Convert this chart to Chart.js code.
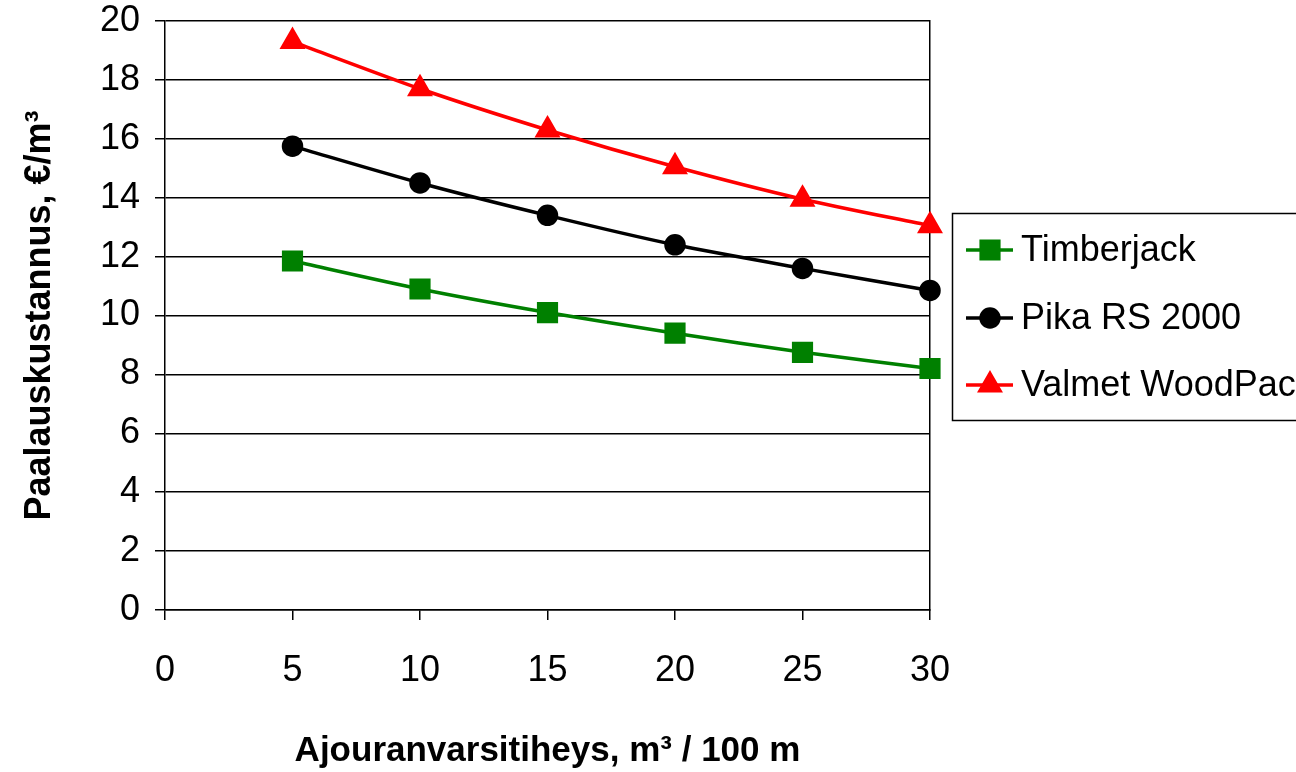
<!DOCTYPE html>
<html>
<head>
<meta charset="utf-8">
<script src="https://cdn.jsdelivr.net/npm/chart.js@4"></script>
<style>
  html, body { margin: 0; padding: 0; background: #fff; }
  #wrap { width: 1296px; height: 772px; }
</style>
</head>
<body>
<div id="wrap"><canvas id="grafica" width="1296" height="772"></canvas></div>
<script>
// ========== DATOS ==========
const tiheys = [5, 10, 15, 20, 25, 30];
const timberjack = [11.85, 10.9, 10.1, 9.4, 8.75, 8.2];
const pika = [15.75, 14.5, 13.4, 12.4, 11.6, 10.85];
const valmet = [19.3, 17.7, 16.3, 15.05, 13.95, 13.05];
const sarjat = ['Timberjack', 'Pika RS 2000', 'Valmet WoodPac'];
const xTitle = 'Ajouranvarsitiheys, m³ / 100 m';
const yTitle = 'Paalauskustannus, €/m³';

const FONT = 'Liberation Sans, Arial, sans-serif';

function pisteet(arvot) {
  return tiheys.map((x, i) => ({ x: x, y: arvot[i] }));
}

// ========== SELITE (oma piirto) ==========
const selite = {
  id: 'selite',
  afterDraw(chart) {
    const ctx = chart.ctx;
    ctx.save();
    ctx.strokeStyle = '#000';
    ctx.lineWidth = 1.5;
    ctx.strokeRect(952.5, 213.5, 400, 207);
    ctx.font = '36px ' + FONT;
    ctx.textBaseline = 'middle';
    ctx.fillStyle = '#000';
    const rivit = [250, 318, 385];
    chart.data.datasets.forEach((ds, i) => {
      const y = rivit[i];
      ctx.strokeStyle = ds.borderColor;
      ctx.lineWidth = 3.5;
      ctx.beginPath();
      ctx.moveTo(966, y);
      ctx.lineTo(1013, y);
      ctx.stroke();
      Chart.helpers.drawPoint(ctx, {
        pointStyle: ds.pointStyle,
        radius: ds.pointRadius,
        borderWidth: 1
      }, 990, y);
      ctx.fillStyle = ds.backgroundColor;
      ctx.fill();
      ctx.fillStyle = '#000';
      ctx.fillText(ds.label, 1021, y + 1);
    });
    ctx.restore();
  }
};

// ========== KAAVIO ==========
const ctx = document.getElementById('grafica');
new Chart(ctx, {
  type: 'line',
  data: {
    datasets: [
      {
        label: sarjat[0],
        data: pisteet(timberjack),
        borderColor: '#008000',
        backgroundColor: '#008000',
        borderWidth: 3.5,
        pointStyle: 'rect',
        pointRadius: 12.5,
        tension: 0.25
      },
      {
        label: sarjat[1],
        data: pisteet(pika),
        borderColor: '#000000',
        backgroundColor: '#000000',
        borderWidth: 3.5,
        pointStyle: 'circle',
        pointRadius: 9,
        tension: 0.25
      },
      {
        label: sarjat[2],
        data: pisteet(valmet),
        borderColor: '#ff0000',
        backgroundColor: '#ff0000',
        borderWidth: 3.5,
        pointStyle: 'triangle',
        pointRadius: 11.5,
        tension: 0.25
      }
    ]
  },
  options: {
    responsive: false,
    animation: false,
    clip: false,
    layout: { padding: { left: 0, top: 21, right: 366, bottom: 0 } },
    plugins: {
      legend: { display: false },
      tooltip: { enabled: false }
    },
    scales: {
      x: {
        type: 'linear',
        min: 0,
        max: 30,
        afterFit(scale) {
          scale.height = 162;
          scale.paddingLeft = 0;
          scale.paddingRight = 0;
        },
        ticks: {
          stepSize: 5,
          color: '#000',
          padding: 31,
          font: { family: FONT, size: 36, lineHeight: 1.1 }
        },
        grid: {
          drawOnChartArea: false,
          drawTicks: true,
          tickLength: 10,
          color: '#000',
          lineWidth: 1.5
        },
        border: { color: '#000', width: 1.5 },
        title: {
          display: true,
          text: xTitle,
          color: '#000',
          padding: { top: 0, bottom: 0 },
          font: { family: FONT, size: 35, weight: 'bold' }
        }
      },
      y: {
        min: 0,
        max: 20,
        afterFit(scale) {
          scale.width = 165;
          scale.paddingTop = 0;
          scale.paddingBottom = 0;
        },
        ticks: {
          stepSize: 2,
          color: '#000',
          padding: 15,
          font: { family: FONT, size: 36, lineHeight: 1.15 }
        },
        grid: {
          drawTicks: true,
          tickLength: 10,
          color: '#000',
          lineWidth: 1.5
        },
        border: { color: '#000', width: 1.5 },
        title: {
          display: true,
          text: yTitle,
          color: '#000',
          padding: { top: 18, bottom: 0 },
          font: { family: FONT, size: 36, weight: 'bold' }
        }
      },
      y2: {
        position: 'right',
        min: 0,
        max: 20,
        afterFit(scale) {
          scale.width = 0;
          scale.paddingTop = 0;
          scale.paddingBottom = 0;
        },
        ticks: { display: false },
        grid: { drawOnChartArea: false, drawTicks: false },
        border: { color: '#000', width: 1.5 }
      }
    }
  },
  plugins: [selite]
});
</script>
</body>
</html>
